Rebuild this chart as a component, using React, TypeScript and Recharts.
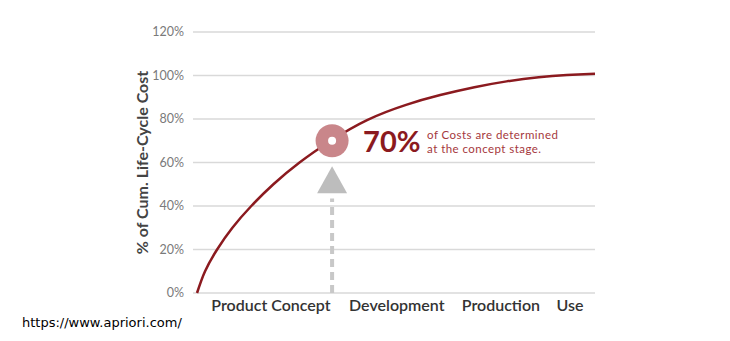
import React from 'react';
import { LineChart, Line, XAxis, YAxis, CartesianGrid, ReferenceDot, ReferenceLine, Label } from 'recharts';

// Curve: development progress (0-100 along x) vs cumulative life-cycle cost (%)
const progress = [1, 3, 6, 9.8, 14.5, 20, 26.5, 34.3, 43.3, 53, 61.5, 70, 78, 86, 93, 100];
const cumCost = [0, 10, 20, 30, 40, 50, 60, 70, 79.5, 86.5, 91, 94.6, 97.3, 99.2, 100.2, 100.8];

// Stage labels on the x axis and their positions (same 0-100 scale)
const stageLabels = ['Product Concept', 'Development', 'Production', 'Use'];
const stagePositions = [19.4, 50.7, 76.6, 93.8];

// Y axis ticks
const yTicks = [0, 20, 40, 60, 80, 100, 120];

// Annotation
const conceptX = 34.6;
const conceptY = 70;
const arrowTipY = 58.3;
const dashTopY = 43.5;
const calloutBig = '70%';
const calloutLine1 = 'of Costs are determined';
const calloutLine2 = 'at the concept stage.';

const data = progress.map((x, i) => ({ x, y: cumCost[i] }));

const RED = '#8b1a1f';
const FONT = 'Lato, "Open Sans", sans-serif';

const CircleShape = (props: any) => {
  const { cx, cy } = props;
  return <circle cx={cx} cy={cy} r={16.5} fill="#c9868a" />;
};

const CenterShape = (props: any) => {
  const { cx, cy } = props;
  return (
    <g>
      <circle cx={cx} cy={cy} r={4} fill="#ffffff" />
      <text x={cx + 31} y={cy + 11.5} fill={RED} fontSize={29} fontWeight={700} fontFamily={FONT}>
        {calloutBig}
      </text>
      <text x={cx + 95} y={cy - 2} fill="#a5383d" fontSize={11.5} letterSpacing={0.45} fontFamily={FONT}>
        {calloutLine1}
      </text>
      <text x={cx + 95} y={cy + 12} fill="#a5383d" fontSize={11.5} letterSpacing={0.45} fontFamily={FONT}>
        {calloutLine2}
      </text>
    </g>
  );
};

const ArrowShape = (props: any) => {
  const { cx, cy } = props;
  return <polygon points={`${cx},${cy} ${cx - 15},${cy + 27} ${cx + 15},${cy + 27}`} fill="#bdbdbd" />;
};

export default function App() {
  return (
    <div style={{ position: 'absolute', left: 0, top: 0, width: 730, height: 341, background: '#fff' }}>
      <LineChart width={730} height={341} data={data} margin={{ top: 32, right: 135, bottom: 18, left: 0 }}>
        <CartesianGrid horizontal vertical={false} stroke="#d9d9d9" strokeWidth={1.5} />
        <XAxis
          type="number"
          dataKey="x"
          domain={[0, 100]}
          ticks={stagePositions}
          interval={0}
          height={30}
          tickFormatter={(v: number) => stageLabels[stagePositions.indexOf(v)] ?? ''}
          axisLine={false}
          tickLine={false}
          tickMargin={1}
          tick={{ fill: '#333', fontSize: 16, fontFamily: FONT, fontWeight: 600 }}
        />
        <YAxis
          type="number"
          domain={[0, 120]}
          ticks={yTicks}
          interval={0}
          width={193}
          axisLine={false}
          tickLine={false}
          tickMargin={3}
          tickFormatter={(v: number) => `${v}%`}
          tick={{ fill: '#7a7a7a', fontSize: 12.5, fontFamily: FONT }}
        >
          <Label
            content={(p: any) => {
              const vb = p.viewBox || {};
              const x = 141;
              const y = (vb.y ?? 32) + (vb.height ?? 261) / 2;
              return (
                <text
                  x={x}
                  y={y}
                  transform={`rotate(-90, ${x}, ${y})`}
                  textAnchor="middle"
                  dominantBaseline="central"
                  fill="#444"
                  fontSize={16}
                  fontWeight={700}
                  fontFamily={FONT}
                >
                  % of Cum. Life-Cycle Cost
                </text>
              );
            }}
          />
        </YAxis>
        <ReferenceLine
          segment={[{ x: conceptX, y: 0 }, { x: conceptX, y: dashTopY }]}
          stroke="#c8c8c8"
          strokeWidth={4}
          strokeDasharray="8 5"
        />
        <ReferenceDot x={conceptX} y={arrowTipY} shape={ArrowShape} />
        <ReferenceDot x={conceptX} y={conceptY} shape={CircleShape} />
        <Line
          type="natural"
          dataKey="y"
          stroke={RED}
          strokeWidth={2.5}
          dot={false}
          activeDot={false}
          isAnimationActive={false}
        />
        <ReferenceDot x={conceptX} y={conceptY} shape={CenterShape} />
      </LineChart>
      <div
        style={{
          position: 'absolute',
          left: 22,
          top: 315,
          fontFamily: '"DejaVu Sans", "Noto Sans", sans-serif',
          fontSize: 13,
          color: '#000',
          whiteSpace: 'nowrap',
        }}
      >
        https://www.apriori.com/
      </div>
    </div>
  );
}
